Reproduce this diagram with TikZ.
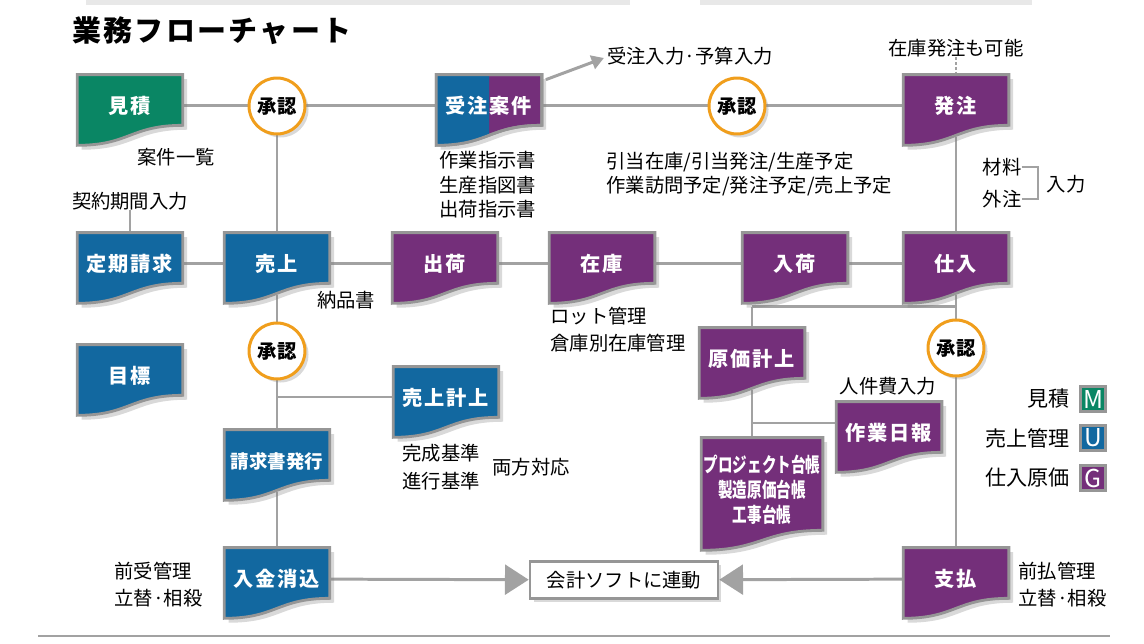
\documentclass[tikz,border=0pt]{standalone}
\usepackage{fontspec}
\setmainfont{Noto Sans CJK JP}
\usetikzlibrary{arrows.meta,positioning,backgrounds,shadows,calc}
\definecolor{mgreen}{RGB}{10,134,100}
\definecolor{ublue}{RGB}{18,104,160}
\definecolor{gpurple}{RGB}{116,47,122}
\definecolor{linegray}{RGB}{162,162,162}
\definecolor{framegray}{RGB}{150,150,150}
\definecolor{okorange}{RGB}{240,158,28}

\tikzset{
  docpath/.style={insert path={(#1.north west) -- (#1.north east)
      -- ($(#1.south east)+(0,-12)$)
      .. controls ($(#1.south)+(0,-12)$) and ($(#1.south)+(0,8)$) .. ($(#1.south west)+(0,8)$)
      -- cycle}}
}

\begin{document}
\begin{tikzpicture}[
    x=0.02cm, y=-0.02cm,
    font=\fontsize{11}{14}\selectfont,
    doc/.style={
		rectangle,
		inner sep=0pt,
		minimum width=2.1cm,
		minimum height=1.24cm,
		text=white,
		align=center,
		font=\bfseries\fontsize{11.5}{14}\selectfont\addfontfeature{LetterSpace=9}
	},
	docframe/.style={
		draw=framegray,
		line width=1.6pt,
		drop shadow={shadow xshift=2.5pt, shadow yshift=-2.5pt, opacity=0.3}
	},
	approve/.style={
		circle,
		draw=okorange,
		line width=1.7pt,
		fill=white,
		minimum size=1.12cm,
		inner sep=0pt,
		font=\bfseries\fontsize{11}{13}\selectfont,
		drop shadow={shadow xshift=2pt, shadow yshift=-2pt, opacity=0.3}
	},
	note/.style={
		inner sep=0pt,
		align=left
	},
	conn/.style={
		draw=linegray,
		line width=1.7pt
	},
	legend/.style={
		rectangle,
		draw=framegray,
		line width=1.8pt,
		minimum size=0.5cm,
		inner sep=0pt,
		text=white,
		font=\fontsize{14}{14}\selectfont
	}
  ]
  \useasboundingbox (0,0) rectangle (1144,644);

  % page edges
  \fill[gray!18] (86,0) rectangle (630,5);
  \fill[gray!18] (700,0) rectangle (1032,5);
  \draw[linegray, line width=1pt] (38,636) -- (1110,636);

  \node[anchor=west, font=\bfseries\fontsize{16.5}{18}\selectfont] (title) at (66,31)
  {\addfontfeature{LetterSpace=8}業務フローチャート};

  % We start by placing the blocks
  \node[doc] (mitsumori) at (130,106) {見積};
  \node[approve] (shonin1) at (277,106) {承認};
  \node[doc] (juchu) at (489,106) {受注案件};
  \node[approve] (shonin2) at (737,106) {承認};
  \node[doc] (hatchu) at (956,106) {発注};

  \node[doc] (teiki) at (130,264) {定期請求};
  \node[doc] (uriage) at (277,264) {売上};
  \node[doc] (shukka) at (445,264) {出荷};
  \node[doc] (zaiko) at (602,264) {在庫};
  \node[doc] (nyuka) at (795,264) {入荷};
  \node[doc] (shiire) at (956,264) {仕入};

  \node[doc] (mokuhyo) at (130,376) {目標};
  \node[approve] (shonin3) at (277,351) {承認};
  \node[doc] (keijo) at (446,398) {売上計上};
  \node[doc, font=\bfseries\fontsize{10.5}{13}\selectfont] (seikyu) at (277,461) {請求書発行};
  \node[doc] (nyukin) at (277,579) {入金消込};

  \node[doc] (genka) at (752,359) {原価計上};
  \node[doc] (sagyo) at (889,433) {作業日報};
  \node[doc, minimum width=2.42cm, minimum height=2.08cm,
        font=\bfseries\fontsize{11.5}{14.2}\selectfont\addfontfeature{FakeStretch=0.72}] (proj) at (762,490)
  {プロジェクト台帳\\製造原価台帳\\工事台帳};
  \node[approve] (shonin4) at (956,348) {承認};
  \node[doc] (shiharai) at (956,579) {支払};

  \node[rectangle, draw=framegray, line width=1.5pt, fill=white, minimum width=3.76cm,
        minimum height=0.74cm, drop shadow={shadow xshift=2pt, shadow yshift=-2pt, opacity=0.3}]
        (kaikei) at (624,580) {会計ソフトに連動};

  % notes
  \node[note] (ichiran) at (176,157) {案件一覧};
  \node[note] (keiyaku) at (130,201) {契約期間入力};
  \node[note, anchor=west] (shiji) at (439,185) {作業指示書\\生産指図書\\出荷指示書};
  \node[note] (yosan) at (690,56) {受注入力·予算入力};
  \node[note, anchor=west] (hikiate) at (606,174)
  {引当在庫/引当発注/生産予定\\作業訪問予定/発注予定/売上予定};
  \node[note] (kanou) at (956,48) {在庫発注も可能};
  \node[note] (zairyo) at (1002,167) {材料};
  \node[note] (gaichu) at (1002,199) {外注};
  \node[note] (nyuryoku) at (1066,184) {入力};
  \node[note] (nohin) at (346,300) {納品書};
  \node[note, anchor=west, font=\fontsize{11}{15.5}\selectfont] (lot) at (550,330) {ロット管理\\倉庫別在庫管理};
  \node[note] (jinken) at (888,386) {人件費入力};
  \node[note, anchor=west, font=\fontsize{11}{15.8}\selectfont] (kijun) at (402,467) {完成基準\\進行基準};
  \node[note] (ryoho) at (531,467) {両方対応};
  \node[note, anchor=west, font=\fontsize{11}{15.5}\selectfont] (maeuke) at (114,585) {前受管理\\立替·相殺};
  \node[note, anchor=west, font=\fontsize{11}{15.5}\selectfont] (maebarai) at (1018,585) {前払管理\\立替·相殺};

  % legend
  \node[legend, fill=mgreen] (lm) at (1093,399) {M};
  \node[legend, fill=ublue] (lu) at (1093,438) {U};
  \node[legend, fill=gpurple] (lg) at (1093,478) {G};
  \node[note, left=0.17cm of lm, font=\fontsize{12}{14}\selectfont] {見積};
  \node[note, left=0.17cm of lu, font=\fontsize{12}{14}\selectfont] {売上管理};
  \node[note, left=0.17cm of lg, font=\fontsize{12}{14}\selectfont] {仕入原価};

  \coordinate (b1) at (752,307);
  \coordinate (b2) at (277,397);
  \coordinate (b3) at (752,423);

  \begin{scope}[on background layer]
    % connectors
    \draw[conn] (mitsumori) -- (shonin1) -- (juchu) -- (shonin2) -- (hatchu);
    \draw[conn] (shonin1) -- (uriage);
    \draw[conn] (hatchu) -- (shiire);
    \draw[conn, densely dotted] (kanou) -- (hatchu);
    \draw[conn, -{Triangle[length=7pt,width=8pt]}] ($(juchu.north east)+(4,5)$) -- ($(yosan.west)+(-3,2)$);
    \draw[conn] (keiyaku) -- (teiki);
    \draw[conn] (teiki) -- (uriage) -- (shukka) -- (zaiko) -- (nyuka) -- (shiire);
    \draw[conn] (uriage) -- (shonin3) -- (seikyu) -- (nyukin);
    \draw[conn] (b2) -- (b2 -| keijo.west);
    \draw[conn] (shiire) -- (shonin4) -- (shiharai);
    \draw[conn] (b1) -- (b1 -| shiire);
    \draw[conn] (b1) -- (genka);
    \draw[conn] (genka) -- (genka |- proj.north);
    \draw[conn] (b3) -- (b3 -| sagyo.west);
    \draw[conn, line width=1.2pt] (zairyo.east) -- ++(16,0) |- (gaichu.east);
    \draw[conn, -{Triangle[length=13.5pt,width=17pt]}] (nyukin) -- (kaikei);
    \draw[conn, -{Triangle[length=13.5pt,width=17pt]}] (shiharai) -- (kaikei);

    % document shapes
    \foreach \n/\c in {mitsumori/mgreen, hatchu/gpurple, teiki/ublue, uriage/ublue,
                       shukka/gpurple, zaiko/gpurple, nyuka/gpurple, shiire/gpurple,
                       mokuhyo/ublue, keijo/ublue, seikyu/ublue, nyukin/ublue,
                       genka/gpurple, sagyo/gpurple, proj/gpurple, shiharai/gpurple}
      \filldraw[docframe, fill=\c, docpath=\n];

    \filldraw[docframe, fill=gpurple, docpath=juchu];
    \begin{scope}
      \clip (juchu.north west) rectangle ($(juchu.south)+(0,20)$);
      \fill[ublue, docpath=juchu];
    \end{scope}
    \draw[draw=framegray, line width=1.6pt, docpath=juchu];
  \end{scope}

\end{tikzpicture}
\end{document}
